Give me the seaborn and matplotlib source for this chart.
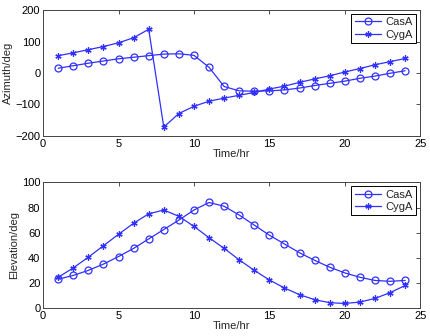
import matplotlib
matplotlib.use("Agg")
import matplotlib.pyplot as plt
import pandas as pd
import seaborn as sns

hours = list(range(1, 25))
casa_azimuth = [15, 23, 31, 38, 45, 50, 55, 60, 61, 56, 18, -43, -57, -58, -57, -54,
                -48, -40, -33, -26, -17, -10, -1, 7]
cyga_azimuth = [55, 64, 74, 84, 96, 112, 139, -172, -129, -106, -90, -80, -71, -62,
                -51, -42, -30, -19, -9, 3, 14, 26, 36, 46]
casa_elevation = [23, 26, 30, 35, 41, 47.5, 55, 62.5, 70, 78, 84, 81, 74, 66, 58, 51,
                  44, 38, 32.5, 28, 24.5, 22, 21.3, 22]
cyga_elevation = [24.5, 32, 40.5, 49.6, 58.7, 67.5, 75, 78, 73, 65, 56, 47.5, 38.4, 30,
                  22.4, 16, 10.7, 6.7, 4.3, 3.7, 4.8, 7.7, 12.3, 18]

blue = "#3030ff"

sns.set_style("white")
plt.rcParams["font.family"] = ["Liberation Sans", "DejaVu Sans"]
plt.rcParams["font.size"] = 8

fig, axes = plt.subplots(2, 1, figsize=(4.31, 3.36), dpi=100)
fig.subplots_adjust(left=0.1, right=0.975, top=0.97, bottom=0.083, hspace=0.37)

panels = [
    (axes[0], casa_azimuth, cyga_azimuth, "Azimuth/deg", (-200, 200), [-200, -100, 0, 100, 200]),
    (axes[1], casa_elevation, cyga_elevation, "Elevation/deg", (0, 100), [0, 20, 40, 60, 80, 100]),
]

for ax, casa, cyga, ylabel, ylim, yticks in panels:
    df = pd.DataFrame({"Time": hours, "CasA": casa, "CygA": cyga})
    sns.lineplot(data=df, x="Time", y="CasA", ax=ax, color=blue, lw=0.9,
                 marker="o", markersize=5, markerfacecolor="none",
                 markeredgecolor=blue, markeredgewidth=0.9, label="CasA")
    sns.lineplot(data=df, x="Time", y="CygA", ax=ax, color=blue, lw=0.9,
                 marker=(6, 2, 0), markersize=4.5, markeredgecolor=blue,
                 markeredgewidth=0.9, label="CygA")
    ax.set_xlim(0, 25)
    ax.set_ylim(*ylim)
    ax.set_xticks([0, 5, 10, 15, 20, 25])
    ax.set_yticks(yticks)
    ax.set_xlabel("Time/hr", labelpad=0)
    ax.set_ylabel(ylabel, labelpad=2)
    ax.tick_params(direction="in", top=True, right=True, length=3, width=0.6,
                   labelsize=8, pad=2, colors="#333333", labelcolor="black")
    for sp in ax.spines.values():
        sp.set_color("#444444")
        sp.set_linewidth(0.7)
    leg = ax.legend(loc="upper right", fancybox=False, framealpha=1,
                    edgecolor="black", handlelength=2.4, borderpad=0.3,
                    labelspacing=0.2, handletextpad=0.4, borderaxespad=0.35)
    leg.get_frame().set_linewidth(0.7)

fig.savefig("out.png", dpi=100)
